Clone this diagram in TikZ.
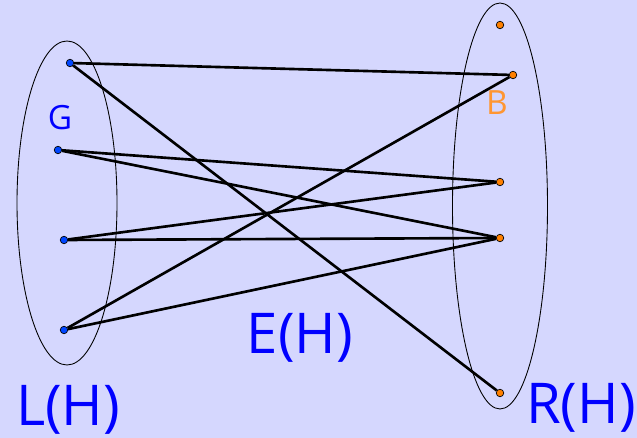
\documentclass[tikz,border=0pt]{standalone}
\usepackage{fontspec}
\setmainfont{Open Sans}
\usetikzlibrary{positioning}
\definecolor{hgback}{RGB}{213,215,254}
\definecolor{hgblue}{RGB}{0,0,255}
\definecolor{hgdotblue}{RGB}{0,70,255}
\definecolor{hgorange}{RGB}{255,150,50}
\definecolor{hgdotorange}{RGB}{255,128,0}

\begin{document}
\begin{tikzpicture}[x=0.02cm,y=-0.02cm,
    vtx/.style={circle,draw=black,inner sep=0pt,minimum size=0.15cm,line width=0.4pt},
    lv/.style={vtx,fill=hgdotblue},
    rv/.style={vtx,fill=hgdotorange},
    edge/.style={line width=1.5pt,black},
    big/.style={font=\fontsize{32}{36}\selectfont,text=hgblue}]
    \fill[hgback] (0,0) rectangle (637,438);
    \useasboundingbox (0,0) rectangle (637,438);
    % the two sides
    \draw[line width=0.5pt] (67,203) ellipse [x radius=50, y radius=162];
    \draw[line width=0.5pt] (500,206) ellipse [x radius=47.5, y radius=203];
    % left vertices
    \node[lv] (l1) at (70,63) {};
    \node[lv] (l2) at (58,150) {};
    \node[lv] (l3) at (64,240) {};
    \node[lv] (l4) at (64,330) {};
    % right vertices
    \node[rv] (r0) at (500,25) {};
    \node[rv] (r1) at (513,75) {};
    \node[rv] (r2) at (500,182) {};
    \node[rv] (r3) at (500,238) {};
    \node[rv] (r4) at (500,393) {};
    % edges
    \draw[edge] (l1) -- (r1);
    \draw[edge] (l1) -- (r4);
    \draw[edge] (l2) -- (r2);
    \draw[edge] (l2) -- (r3);
    \draw[edge] (l3) -- (r2);
    \draw[edge] (l3) -- (r3);
    \draw[edge] (l4) -- (r1);
    \draw[edge] (l4) -- (r3);
    % labels
    \node[font=\fontsize{19}{22}\selectfont,text=hgblue] (g) at (60,118) {G};
    \node[font=\fontsize{19}{22}\selectfont,text=hgorange] (b) at (497,103) {B};
    \node[big] (lh) at (68,410) {L(H)};
    \node[big] (rh) at (581,408) {R(H)};
    \node[big] (eh) at (300,338) {E(H)};
\end{tikzpicture}
\end{document}
